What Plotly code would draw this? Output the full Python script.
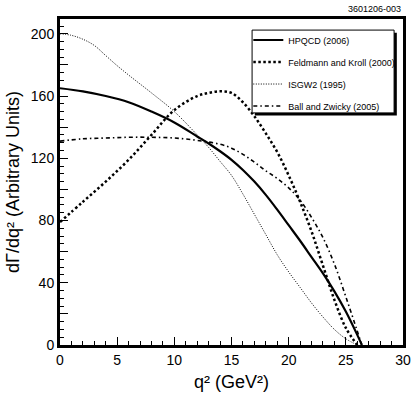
import plotly.graph_objects as go

# values
hpqcd_q = [0, 2, 4, 6, 8, 10, 12, 13, 14, 15, 16, 17, 18, 19, 20, 21, 22, 23, 24, 25, 26, 26.4]
hpqcd_y = [165, 163, 160, 156, 150, 143, 134, 129.5, 124.5, 119, 112.5, 105, 96.5, 87, 77, 67, 56.5, 46, 34.5, 21.5, 6.5, 0]

fk_q = [0, 2, 4, 6, 8, 10, 12, 13, 14, 15, 16, 17, 18, 19, 20, 21, 22, 23, 24, 25, 26]
fk_y = [79, 92, 105, 119, 135, 151, 160, 162, 163, 162, 156, 147, 136, 124, 109, 92, 73, 51, 29, 11, 0]

isgw_q = [0, 1, 2, 3, 4, 5, 6, 8, 10, 12, 13, 14, 15, 16, 17, 18, 19, 20, 21, 22, 23, 24, 25, 26]
isgw_y = [200, 199, 196.5, 192.5, 186, 179.5, 173.5, 162, 150, 135, 127, 118, 109, 97, 84, 71, 58, 47, 37, 27, 18, 10, 4, 0]

bz_q = [0, 2, 4, 6, 8, 10, 12, 14, 15, 16, 17, 18, 19, 20, 21, 22, 23, 24, 25, 26, 26.4]
bz_y = [131, 132.5, 133, 133.5, 133.5, 133, 131.5, 129, 126.5, 122.5, 117.5, 112, 107, 101, 93, 82, 69, 52, 31, 9, 0]

y_tickvals = [0, 20, 40, 60, 80, 100, 120, 140, 160, 180, 200]
y_ticktext = ["0", "", "40", "", "80", "", "120", "", "160", "", "200"]

FONT = "Liberation Sans, Arial, Helvetica, sans-serif"

fig = go.Figure()
fig.add_trace(go.Scatter(x=hpqcd_q, y=hpqcd_y, mode="lines", name="HPQCD (2006)", legendgroup="a",
                         line=dict(color="black", width=2.2, shape="spline")))
fig.add_trace(go.Scatter(x=fk_q, y=fk_y, mode="lines", name="Feldmann and Kroll (2000)", legendgroup="b",
                         line=dict(color="black", width=2.5, dash="2.5px,2.5px", shape="spline")))
fig.add_trace(go.Scatter(x=isgw_q, y=isgw_y, mode="lines", name="ISGW2 (1995)", legendgroup="c",
                         line=dict(color="black", width=1, dash="1px,1.5px", shape="spline")))
fig.add_trace(go.Scatter(x=bz_q, y=bz_y, mode="lines", name="Ball and Zwicky (2005)", legendgroup="d",
                         line=dict(color="black", width=1.6, dash="4px,3px,1.5px,3px", shape="spline")))

# legend box with drop shadow
fig.add_shape(type="rect", xref="paper", yref="paper", x0=0.568, x1=0.982, y0=0.704, y1=0.958,
              fillcolor="black", line=dict(width=0), layer="above")
fig.add_shape(type="rect", xref="paper", yref="paper", x0=0.560, x1=0.974, y0=0.712, y1=0.966,
              fillcolor="white", line=dict(color="black", width=1), layer="above")

fig.update_layout(
    width=415, height=396,
    margin=dict(l=60, r=12, t=19, b=51, autoexpand=False),
    paper_bgcolor="white", plot_bgcolor="white",
    font=dict(family=FONT, color="black"),
    showlegend=True,
    legend=dict(x=0.549, y=0.98, xanchor="left", yanchor="top",
                bgcolor="rgba(0,0,0,0)", borderwidth=0,
                font=dict(size=9, family=FONT), itemwidth=30,
                traceorder="grouped", tracegroupgap=3),
    xaxis=dict(range=[0, 30], tickvals=[0, 5, 10, 15, 20, 25, 30], automargin=False,
               ticks="inside", ticklen=8, tickwidth=1, tickcolor="black",
               minor=dict(dtick=1, ticks="inside", ticklen=4, tickcolor="black"),
               showline=True, linewidth=3, linecolor="black", mirror=True,
               showgrid=False, zeroline=False,
               tickfont=dict(size=14), title=dict(text="q² (GeV²)", font=dict(size=18), standoff=9)),
    yaxis=dict(range=[0, 209.5], tickvals=y_tickvals, ticktext=y_ticktext, automargin=False,
               ticks="inside", ticklen=8, tickwidth=1, tickcolor="black",
               minor=dict(dtick=5, ticks="inside", ticklen=4, tickcolor="black"),
               showline=True, linewidth=3, linecolor="black", mirror=True,
               showgrid=False, zeroline=False,
               tickfont=dict(size=14), title=dict(text="dΓ/dq² (Arbitrary Units)", font=dict(size=18), standoff=7)),
    annotations=[dict(text="3601206-003", xref="paper", yref="paper", x=1.0, y=1.0,
                      xanchor="right", yanchor="bottom", yshift=3, showarrow=False,
                      font=dict(size=9, family=FONT))],
)

# drop the default 8px page margin so the figure sits at the window corner
fig.write_html("out.html", config={"displayModeBar": False},
               post_script="document.body.style.margin='0';")
